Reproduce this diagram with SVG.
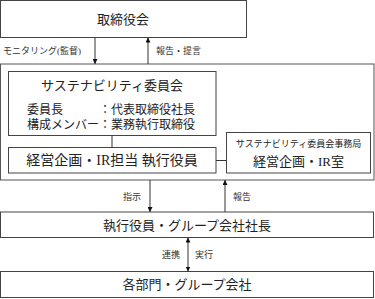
<svg xmlns="http://www.w3.org/2000/svg" width="375" height="299" viewBox="0 0 375 299">
<defs>
<style>
.box{fill:#fff;stroke:#444;stroke-width:1}
.outer{fill:#fff;stroke:#555;stroke-width:1}
.ln{stroke:#333;stroke-width:1;fill:none}
.t{font-family:"Liberation Serif","Noto Sans CJK JP",serif;fill:#222;dominant-baseline:central}
.m{font-size:13px;text-anchor:middle}
.s{font-size:12px}
.l{font-size:9px;fill:#333}
</style>
<marker id="ah" viewBox="0 0 10 10" refX="10" refY="5" markerWidth="5" markerHeight="5" orient="auto-start-reverse" markerUnits="userSpaceOnUse">
<path d="M0,0 L10,5 L0,10 z" fill="#111"/>
</marker>
</defs>
<rect width="375" height="299" fill="#fff"/>
<g id="board">
<rect class="box" x="0.5" y="0.5" width="246" height="37"/>
<text class="t m" x="123" y="19">取締役会</text>
</g>
<g id="outer">
<rect class="outer" x="0.5" y="64" width="373.5" height="116"/>
</g>
<g id="committee">
<rect class="box" x="8.5" y="71.5" width="207.5" height="64"/>
<text class="t m" x="112" y="85">サステナビリティ委員会</text>
<text class="t s" x="27" y="110">委員長</text>
<text class="t s" x="99" y="110">：代表取締役社長</text>
<text class="t s" x="27" y="125">構成メンバー</text>
<text class="t s" x="99" y="125">：業務執行取締役</text>
</g>
<g id="officer">
<rect class="box" x="8.5" y="147.5" width="207.5" height="25.5"/>
<text class="t" x="112" y="160.5" font-size="14" text-anchor="middle">経営企画・IR担当 執行役員</text>
</g>
<g id="secretariat">
<rect class="box" x="226.5" y="132.5" width="144" height="40.5"/>
<text class="t" x="298.5" y="143.5" font-size="9" text-anchor="middle">サステナビリティ委員会事務局</text>
<text class="t m" x="298.5" y="161">経営企画・IR室</text>
</g>
<g id="executives">
<rect class="box" x="0.5" y="212" width="373" height="25.5"/>
<text class="t m" x="187" y="225">執行役員・グループ会社社長</text>
</g>
<g id="departments">
<rect class="box" x="0.5" y="271.5" width="373" height="26"/>
<text class="t m" x="187" y="284.5">各部門・グループ会社</text>
</g>
<g id="connectors">
<line class="ln" x1="95" y1="37.5" x2="95" y2="64" marker-end="url(#ah)"/>
<line class="ln" x1="148" y1="64" x2="148" y2="37.5" marker-end="url(#ah)"/>
<line class="ln" x1="112" y1="135.5" x2="112" y2="147.5"/>
<line class="ln" x1="216" y1="160.5" x2="226.5" y2="160.5"/>
<line class="ln" x1="150" y1="180" x2="150" y2="212" marker-end="url(#ah)"/>
<line class="ln" x1="225" y1="212" x2="225" y2="180" marker-end="url(#ah)"/>
<line class="ln" x1="188" y1="237.5" x2="188" y2="271.5" marker-start="url(#ah)" marker-end="url(#ah)"/>
<text class="t l" x="3" y="51">モニタリング(監督)</text>
<text class="t l" x="156" y="51">報告・提言</text>
<text class="t l" x="141" y="197" text-anchor="end">指示</text>
<text class="t l" x="233" y="197">報告</text>
<text class="t l" x="180" y="255" text-anchor="end">連携</text>
<text class="t l" x="195" y="255">実行</text>
</g>
</svg>
